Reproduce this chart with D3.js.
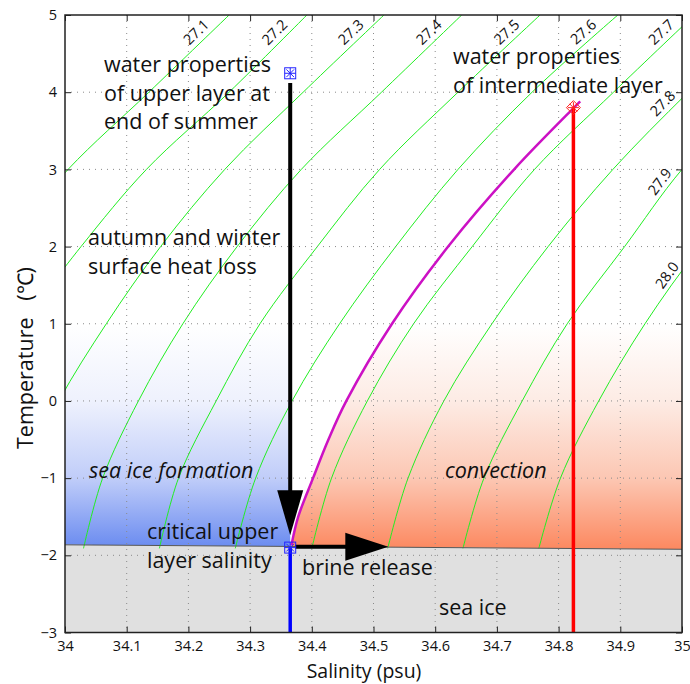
<!DOCTYPE html>
<html>
<head>
<meta charset="utf-8">
<script src="https://cdn.jsdelivr.net/npm/d3@7"></script>
<style>
  body { margin: 0; background: #fff; }
  svg { display: block; font-family: "Open Sans", Lato, sans-serif; }
</style>
</head>
<body>
<svg id="chart" width="690" height="684"></svg>
<script>
// Axis ticks
const xTicks = [34, 34.1, 34.2, 34.3, 34.4, 34.5, 34.6, 34.7, 34.8, 34.9, 35];
const yTicks = [-3, -2, -1, 0, 1, 2, 3, 4, 5];

// Isopycnals: salinity read at each temperature level (null = outside the frame)
const sigmaLabels = ['27.1', '27.2', '27.3', '27.4', '27.5', '27.6', '27.7', '27.8', '27.9', '28.0'];
const isoTemps = [5, 4, 3, 2, 1, 0, -1, -1.91];
const isoSalinity = [
  [34.266, 34.136, 34.005, 33.900, null, null, null, null],
  [34.392, 34.266, 34.132, 34.026, 33.930, null, null, null],
  [34.517, 34.386, 34.259, 34.155, 34.067, 33.990, 33.930, null],
  [34.643, 34.513, 34.383, 34.279, 34.191, 34.119, 34.061, 34.030],
  [34.770, 34.637, 34.510, 34.409, 34.316, 34.245, 34.184, 34.153],
  [34.896, 34.757, 34.637, 34.536, 34.445, 34.368, 34.309, 34.276],
  [35.020, 34.889, 34.761, 34.660, 34.565, 34.490, 34.432, 34.400],
  [35.140, 35.010, 34.888, 34.783, 34.692, 34.614, 34.556, 34.523],
  [null, 35.120, 35.000, 34.907, 34.814, 34.741, 34.679, 34.645],
  [null, null, 35.140, 35.030, 34.940, 34.865, 34.803, 34.768]
];
// temperature on each isopycnal where its label sits
const labelTemps = [4.68, 4.68, 4.68, 4.68, 4.68, 4.68, 4.68, 3.76, 2.76, 1.55];

// Freezing line
const freezeS = [34, 35];
const freezeT = [-1.864, -1.922];

// Mixing curve between the two water masses
const mixT = [-1.87, -1.5, -1, -0.5, 0, 1, 2, 3, 3.8, 3.88];
const mixS = [34.367, 34.378, 34.402, 34.427, 34.456, 34.530, 34.621, 34.728, 34.825, 34.835];

// Water masses
const upperS = 34.365, upperT = 4.245;
const criticalS = 34.365, criticalT = -1.90;
const interS = 34.824, interT = 3.80;

// Arrows
const coolArrow = { s: 34.365, t0: 4.12, t1: -1.74 };
const brineArrow = { t: -1.89, s0: 34.373, s1: 34.524 };

// Shading: colour stops from the fade top (T = 1) down to the freezing line
const fadeTopT = 1.0;
const blueStops = ['#ffffff', '#eef1fd', '#c0cdf9', '#6a8bf0'];
const redStops = ['#ffffff', '#fdebe4', '#fcc7b3', '#fc8a62'];
const stopOffsets = [0, 0.35, 0.69, 1];

const width = 690, height = 684;
const margin = { top: 15, right: 8, bottom: 51.5, left: 65 };

const svg = d3.select('#chart');

const x = d3.scaleLinear().domain([34, 35]).range([margin.left, width - margin.right]);
const y = d3.scaleLinear().domain([-3, 5]).range([height - margin.bottom, margin.top]);

const freezeAt = d3.scaleLinear().domain(freezeS).range(freezeT);

const defs = svg.append('defs');
defs.append('clipPath').attr('id', 'plotClip')
  .append('rect')
  .attr('x', x(34)).attr('y', y(5))
  .attr('width', x(35) - x(34)).attr('height', y(-3) - y(5));

function vGradient(id, colors) {
  const g = defs.append('linearGradient').attr('id', id)
    .attr('gradientUnits', 'userSpaceOnUse')
    .attr('x1', 0).attr('x2', 0)
    .attr('y1', y(fadeTopT)).attr('y2', y(-1.9));
  colors.forEach((c, i) => g.append('stop').attr('offset', stopOffsets[i]).attr('stop-color', c));
}
vGradient('blueGrad', blueStops);
vGradient('redGrad', redStops);

const plot = svg.append('g').attr('clip-path', 'url(#plotClip)');

const poly = d3.line().x(d => x(d[0])).y(d => y(d[1]));

// sea ice formation shading
plot.append('path')
  .attr('d', poly([[34, fadeTopT], [upperS, fadeTopT], [upperS, freezeAt(upperS)], [34, freezeAt(34)]]) + 'Z')
  .attr('fill', 'url(#blueGrad)');

// convection shading, bounded by the mixing curve
const redPts = [];
mixT.forEach((t, i) => { if (t <= fadeTopT) redPts.push([mixS[i], t]); });
redPts.push([35, fadeTopT], [35, freezeAt(35)], [mixS[0], freezeAt(mixS[0])]);
plot.append('path').attr('d', poly(redPts) + 'Z').attr('fill', 'url(#redGrad)');

// sea ice (below freezing)
plot.append('path')
  .attr('d', poly([[34, freezeAt(34)], [35, freezeAt(35)], [35, -3], [34, -3]]) + 'Z')
  .attr('fill', '#e0e0e0');

// dotted grid
const grid = svg.append('g').attr('stroke', '#8a8a8a').attr('stroke-width', 1)
  .attr('stroke-dasharray', '1,5');
grid.selectAll('.gx').data(xTicks.slice(1, -1)).join('line')
  .attr('x1', d => x(d)).attr('x2', d => x(d))
  .attr('y1', y(5)).attr('y2', y(-3));
grid.selectAll('.gy').data(yTicks.slice(1, -1)).join('line')
  .attr('x1', x(34)).attr('x2', x(35))
  .attr('y1', d => y(d)).attr('y2', d => y(d));

// isopycnals
const isoLine = d3.line()
  .defined(d => d[0] != null)
  .x(d => x(d[0])).y(d => y(d[1]))
  .curve(d3.curveCatmullRom);

const isoData = isoSalinity.map(row => row.map((s, i) => [s, isoTemps[i]]));
plot.append('g').selectAll('path').data(isoData).join('path')
  .attr('d', isoLine)
  .attr('fill', 'none')
  .attr('stroke', '#22ee22')
  .attr('stroke-width', 1);

// isopycnal labels
const labelG = svg.append('g');
isoData.forEach((pts, k) => {
  const t = labelTemps[k];
  const i = isoTemps.findIndex(v => v <= t);
  const a = pts[i - 1], b = pts[i];
  const f = (a[1] - t) / (a[1] - b[1]);
  const s = a[0] + f * (b[0] - a[0]);
  const px = x(s), py = y(t);
  const dx = x(a[0]) - x(b[0]), dy = y(a[1]) - y(b[1]);
  const len = Math.hypot(dx, dy);
  const ang = Math.atan2(dy, dx) * 180 / Math.PI;
  const off = 10.5;
  const lx = px + off * dy / len, ly = py - off * dx / len;
  labelG.append('text')
    .attr('transform', `translate(${lx},${ly}) rotate(${ang})`)
    .attr('text-anchor', 'middle')
    .attr('dy', '0.35em')
    .attr('font-size', 14.5)
    .attr('fill', '#111')
    .text(sigmaLabels[k]);
});

// freezing line
svg.append('line')
  .attr('x1', x(freezeS[0])).attr('y1', y(freezeT[0]))
  .attr('x2', x(freezeS[1])).attr('y2', y(freezeT[1]))
  .attr('stroke', '#555').attr('stroke-width', 1);

// mixing curve
const mixLine = d3.line().x(d => x(d[0])).y(d => y(d[1])).curve(d3.curveCatmullRom);
svg.append('path')
  .attr('d', mixLine(mixS.map((s, i) => [s, mixT[i]])))
  .attr('fill', 'none').attr('stroke', '#cc11c4').attr('stroke-width', 2.5);

// vertical lines below the water masses
svg.append('line')
  .attr('x1', x(criticalS)).attr('x2', x(criticalS))
  .attr('y1', y(criticalT)).attr('y2', y(-3))
  .attr('stroke', '#0000ff').attr('stroke-width', 3.5);
svg.append('line')
  .attr('x1', x(interS)).attr('x2', x(interS))
  .attr('y1', y(interT)).attr('y2', y(-3))
  .attr('stroke', '#ff0000').attr('stroke-width', 3.5);

// cooling arrow
const ax = x(coolArrow.s), ay0 = y(coolArrow.t0), ay1 = y(coolArrow.t1);
svg.append('line')
  .attr('x1', ax).attr('x2', ax).attr('y1', ay0).attr('y2', ay1 - 40)
  .attr('stroke', '#000').attr('stroke-width', 4);
svg.append('path')
  .attr('d', `M${ax - 13},${ay1 - 45}L${ax + 13},${ay1 - 45}L${ax},${ay1}Z`)
  .attr('fill', '#000');

// brine arrow
const by = y(brineArrow.t), bx0 = x(brineArrow.s0), bx1 = x(brineArrow.s1);
svg.append('line')
  .attr('x1', bx0).attr('x2', bx1 - 40).attr('y1', by).attr('y2', by)
  .attr('stroke', '#000').attr('stroke-width', 4);
svg.append('path')
  .attr('d', `M${bx1 - 43},${by - 14}L${bx1 - 43},${by + 14}L${bx1},${by}Z`)
  .attr('fill', '#000');

// markers
function asterisk(g, r) {
  g.append('path')
    .attr('d', `M${-r},0H${r}M0,${-r}V${r}M${-r * 0.7},${-r * 0.7}L${r * 0.7},${r * 0.7}M${-r * 0.7},${r * 0.7}L${r * 0.7},${-r * 0.7}`)
    .attr('fill', 'none');
}
[[upperS, upperT], [criticalS, criticalT]].forEach(([s, t]) => {
  const g = svg.append('g').attr('transform', `translate(${x(s)},${y(t)})`)
    .attr('stroke', '#2222ff').attr('stroke-width', 1);
  g.append('rect').attr('x', -5.5).attr('y', -5.5).attr('width', 11).attr('height', 11)
    .attr('fill', 'none');
  asterisk(g, 5.5);
});
{
  const g = svg.append('g').attr('transform', `translate(${x(interS)},${y(interT)})`)
    .attr('stroke', '#ff2222').attr('stroke-width', 1);
  g.append('path').attr('d', 'M0,-7L7,0L0,7L-7,0Z').attr('fill', 'none');
  asterisk(g, 5.5);
}

// axes (ticks inside, on all four sides)
const tickLen = 6;
svg.append('g').attr('transform', `translate(0,${y(-3)})`)
  .call(d3.axisBottom(x).tickValues(xTicks).tickSize(-tickLen).tickPadding(8).tickFormat(d3.format('')))
  .call(g => g.select('.domain').remove());
svg.append('g').attr('transform', `translate(0,${y(5)})`)
  .call(d3.axisTop(x).tickValues(xTicks).tickSize(-tickLen).tickFormat(''))
  .call(g => g.select('.domain').remove());
svg.append('g').attr('transform', `translate(${x(34)},0)`)
  .call(d3.axisLeft(y).tickValues(yTicks).tickSize(-tickLen).tickPadding(8))
  .call(g => g.select('.domain').remove());
svg.append('g').attr('transform', `translate(${x(35)},0)`)
  .call(d3.axisRight(y).tickValues(yTicks).tickSize(-tickLen).tickFormat(''))
  .call(g => g.select('.domain').remove());
svg.selectAll('.tick text').attr('font-size', 14.5).attr('fill', '#111')
  .attr('font-family', '"Open Sans", sans-serif');
svg.selectAll('.tick line').attr('stroke', '#222');

svg.append('rect')
  .attr('x', x(34)).attr('y', y(5))
  .attr('width', x(35) - x(34)).attr('height', y(-3) - y(5))
  .attr('fill', 'none').attr('stroke', '#222').attr('stroke-width', 1.5);

// axis titles
svg.append('text').attr('x', 364).attr('y', 677.5)
  .attr('text-anchor', 'middle').attr('font-size', 19.5).attr('fill', '#111')
  .text('Salinity (psu)');
svg.append('text')
  .attr('transform', 'translate(33,358) rotate(-90)')
  .attr('text-anchor', 'middle').attr('font-size', 21.5).attr('fill', '#111')
  .attr('xml:space', 'preserve')
  .style('white-space', 'pre')
  .text('Temperature   (\u2103)');

// annotations
const notes = [
  { lines: ['water properties', 'of upper layer at', 'end of summer'], x: 104, y: 72, italic: false },
  { lines: ['water properties', 'of intermediate layer'], x: 453, y: 64, italic: false },
  { lines: ['autumn and winter', 'surface heat loss'], x: 88, y: 245, italic: false },
  { lines: ['sea ice formation'], x: 89, y: 478, italic: true },
  { lines: ['convection'], x: 445, y: 478, italic: true },
  { lines: ['critical upper', 'layer salinity'], x: 147, y: 539, italic: false },
  { lines: ['brine release'], x: 302, y: 575, italic: false },
  { lines: ['sea ice'], x: 439, y: 615, italic: false }
];
notes.forEach(n => {
  const t = svg.append('text').attr('x', n.x).attr('y', n.y)
    .attr('font-size', 21.5).attr('fill', '#111')
    .attr('font-style', n.italic ? 'italic' : 'normal');
  n.lines.forEach((l, i) => {
    t.append('tspan').attr('x', n.x).attr('dy', i === 0 ? 0 : 28.5).text(l);
  });
});
</script>
</body>
</html>
